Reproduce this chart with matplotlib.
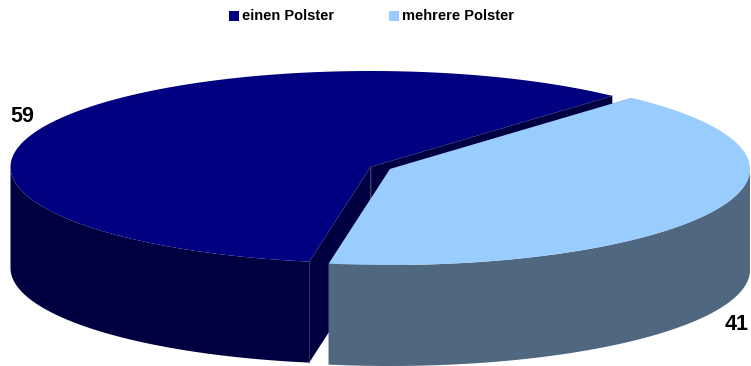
import numpy as np
import matplotlib
matplotlib.use('Agg')
import matplotlib.pyplot as plt
from matplotlib.patches import Polygon, Rectangle

labels = ['einen Polster', 'mehrere Polster']
values = [59, 41]
top_colors = ['#000080', '#99CCFF']
side_colors = ['#000040', '#4F6880']

plt.rcParams['font.family'] = ['Liberation Sans', 'DejaVu Sans']

start_angle = 47.8
rx = 360
ry = 96
depth = 101
centers = [(370.5, 167), (390, 169)]

fig = plt.figure(figsize=(7.51, 3.66), dpi=100)
ax = fig.add_axes([0, 0, 1, 1])
ax.set_xlim(0, 751)
ax.set_ylim(366, 0)
ax.axis('off')

fractions = np.array(values) / sum(values)
edges = start_angle + 360 * np.concatenate([[0], np.cumsum(fractions)])


def rim(center, a0, a1, n=240):
    t = np.radians(np.linspace(a0, a1, n))
    return np.column_stack([center[0] + rx * np.cos(t), center[1] - ry * np.sin(t)])


for i in range(2):
    c = centers[i]
    a0, a1 = edges[i], edges[i + 1]
    arc = rim(c, a0, a1)
    drop = np.array([0, depth])
    z = 2 + i

    # cut faces running back to the centre
    for end in (arc[0], arc[-1]):
        face = np.array([c, end, end + drop, np.array(c) + drop])
        ax.add_patch(Polygon(face, closed=True, fc=side_colors[i], ec='none', zorder=z))

    # outer wall, only the part facing the viewer
    lo, hi = max(a0, 180), min(a1, 360)
    if i == 1:
        lo, hi = a0, 360
    wall = rim(c, lo, hi)
    ax.add_patch(Polygon(np.vstack([wall, (wall + drop)[::-1]]), closed=True,
                         fc=side_colors[i], ec='none', zorder=z))

    ax.add_patch(Polygon(np.vstack([[c], arc]), closed=True, fc=top_colors[i],
                         ec='none', zorder=z + 0.5))

    # faint seams on the dark slice
    if i == 0:
        seam = '#2E2E70'
        ax.plot([arc[-1][0], c[0], arc[0][0]], [arc[-1][1], c[1], arc[0][1]],
                color=seam, lw=0.4, zorder=z + 0.6)
        ax.plot([arc[-1][0], arc[-1][0]], [arc[-1][1], arc[-1][1] + depth],
                color=seam, lw=0.4, zorder=z + 0.6)
        ax.plot([c[0], c[0]], [c[1], c[1] + depth], color=seam, lw=0.4, zorder=z + 0.1)

# legend
legend_x = [229, 389]
for i in range(2):
    ax.add_patch(Rectangle((legend_x[i], 11), 10, 10, fc=top_colors[i], ec='none', zorder=5))
    ax.text(legend_x[i] + 13, 15.5, labels[i], fontsize=10.5, fontweight='bold',
            ha='left', va='center', color='black')

ax.text(22, 116.5, str(values[0]), fontsize=15.5, fontweight='bold', ha='center', va='center')
ax.text(737, 325, str(values[1]), fontsize=15.5, fontweight='bold', ha='center', va='center')

fig.savefig('out.png', dpi=100, facecolor='white')
